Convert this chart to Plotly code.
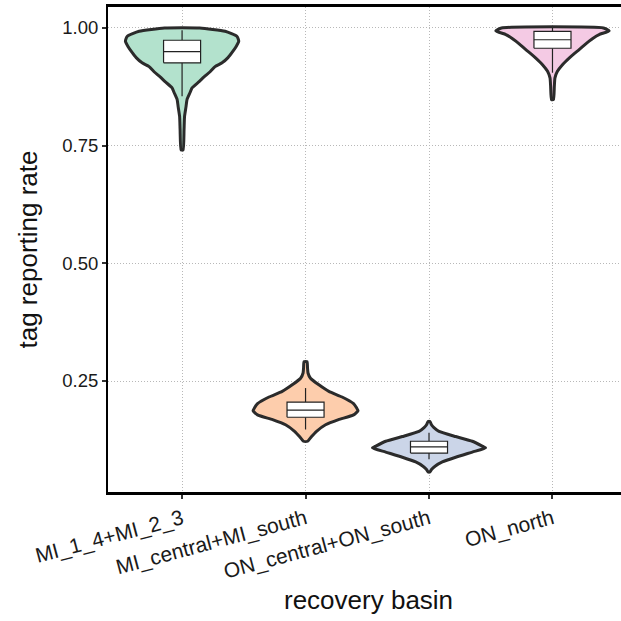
import plotly.graph_objects as go

categories = ["MI_1_4+MI_2_3", "MI_central+MI_south", "ON_central+ON_south", "ON_north"]
fill_colors = ["#B3E2CD", "#FDCDAC", "#CBD5E8", "#F4CAE4"]

# violin outlines: value level and half-width (in category units)
v1_levels = [1.000, 0.993, 0.982, 0.972, 0.960, 0.948, 0.937, 0.926, 0.918, 0.907, 0.896, 0.886, 0.873, 0.863, 0.848, 0.833, 0.812, 0.784, 0.741]
v1_width = [0.142, 0.348, 0.445, 0.459, 0.437, 0.405, 0.372, 0.324, 0.267, 0.227, 0.178, 0.138, 0.081, 0.065, 0.040, 0.032, 0.020, 0.016, 0.008]

v2_levels = [0.291, 0.278, 0.267, 0.256, 0.242, 0.228, 0.216, 0.202, 0.193, 0.187, 0.178, 0.168, 0.157, 0.143, 0.132, 0.122]
v2_width = [0.012, 0.016, 0.020, 0.040, 0.108, 0.189, 0.296, 0.389, 0.413, 0.425, 0.389, 0.267, 0.162, 0.089, 0.049, 0.016]

v3_levels = [0.164, 0.157, 0.151, 0.143, 0.132, 0.122, 0.111, 0.108, 0.099, 0.088, 0.078, 0.069, 0.062, 0.057]
v3_width = [0.008, 0.020, 0.040, 0.081, 0.216, 0.351, 0.437, 0.459, 0.351, 0.216, 0.108, 0.049, 0.020, 0.008]

v4_levels = [1.000, 0.994, 0.986, 0.979, 0.972, 0.962, 0.954, 0.945, 0.936, 0.922, 0.908, 0.894, 0.876, 0.848]
v4_width = [0.413, 0.459, 0.378, 0.332, 0.297, 0.251, 0.216, 0.174, 0.135, 0.081, 0.040, 0.020, 0.015, 0.008]

# box summaries
box_lower = [0.855, 0.147, 0.084, 0.905]
box_q1 = [0.926, 0.173, 0.097, 0.957]
box_median = [0.950, 0.188, 0.110, 0.975]
box_q3 = [0.974, 0.205, 0.122, 0.993]
box_upper = [0.995, 0.235, 0.140, 1.000]

y_ticks = [0.25, 0.50, 0.75, 1.00]

profiles = [(v1_levels, v1_width), (v2_levels, v2_width), (v3_levels, v3_width), (v4_levels, v4_width)]
positions = [1, 2, 3, 4]
BOX_HALF = 0.15
OUTLINE = "#2b2b2b"

fig = go.Figure()

for pos, (levels, widths), col in zip(positions, profiles, fill_colors):
    pairs = sorted(zip(levels, widths))
    ys = [p[0] for p in pairs]
    ws = [p[1] for p in pairs]
    xs = [pos + w for w in ws] + [pos - w for w in reversed(ws)]
    yy = ys + list(reversed(ys))
    xs.append(xs[0])
    yy.append(yy[0])
    fig.add_trace(go.Scatter(x=xs, y=yy, mode="lines", fill="toself", fillcolor=col,
                             line=dict(color=OUTLINE, width=3, shape="spline", smoothing=0.5),
                             hoverinfo="skip", showlegend=False))

# whiskers
wx, wy = [], []
for pos, lo, q1, q3, hi in zip(positions, box_lower, box_q1, box_q3, box_upper):
    wx += [pos, pos, None, pos, pos, None]
    wy += [lo, q1, None, q3, hi, None]
fig.add_trace(go.Scatter(x=wx, y=wy, mode="lines", line=dict(color="#222222", width=1.2),
                         hoverinfo="skip", showlegend=False))

# boxes
for pos, q1, med, q3 in zip(positions, box_q1, box_median, box_q3):
    fig.add_trace(go.Scatter(x=[pos - BOX_HALF, pos + BOX_HALF, pos + BOX_HALF, pos - BOX_HALF, pos - BOX_HALF],
                             y=[q1, q1, q3, q3, q1], mode="lines", fill="toself", fillcolor="white",
                             line=dict(color="#222222", width=1.2), hoverinfo="skip", showlegend=False))
    fig.add_trace(go.Scatter(x=[pos - BOX_HALF, pos + BOX_HALF], y=[med, med], mode="lines",
                             line=dict(color="#222222", width=1.2), hoverinfo="skip", showlegend=False))

font_family = "Liberation Sans, Arial, sans-serif"

fig.update_layout(
    width=621, height=621,
    margin=dict(l=108, r=0, t=7, b=129),
    plot_bgcolor="white", paper_bgcolor="white",
    showlegend=False,
    font=dict(family=font_family, color="#222222"),
)

fig.update_xaxes(
    range=[0.4, 4.555],
    tickmode="array", tickvals=positions, ticktext=categories,
    tickangle=-15, tickfont=dict(size=21, color="#1a1a1a"),
    showgrid=True, gridcolor="#b8b8b8", griddash="1px,2px", gridwidth=1,
    showline=True, linecolor="black", linewidth=2.5, mirror=True,
    ticks="outside", ticklen=4, tickwidth=2, tickcolor="#333333",
    zeroline=False,
)
fig.update_yaxes(
    range=[0.0142, 1.0446],
    tickmode="array", tickvals=y_ticks, ticktext=[f"{v:.2f}" for v in y_ticks],
    tickfont=dict(size=18.5, color="#1a1a1a"),
    showgrid=True, gridcolor="#b8b8b8", griddash="1px,2px", gridwidth=1,
    showline=True, linecolor="black", linewidth=2, mirror=False,
    ticks="outside", ticklen=4, tickwidth=2, tickcolor="#333333",
    zeroline=False,
)

fig.add_annotation(text="recovery basin", xref="paper", yref="paper", x=0.507, y=0,
                   yshift=-108, xanchor="center", yanchor="middle", showarrow=False,
                   font=dict(size=26, color="#111111"))
fig.add_annotation(text="tag reporting rate", xref="paper", yref="paper", x=0, y=0.5,
                   xshift=-81, xanchor="center", yanchor="middle", textangle=-90, showarrow=False,
                   font=dict(size=26, color="#111111"))

fig.write_html("out.html", config={"displayModeBar": False},
               post_script="document.body.style.margin='0px';")
